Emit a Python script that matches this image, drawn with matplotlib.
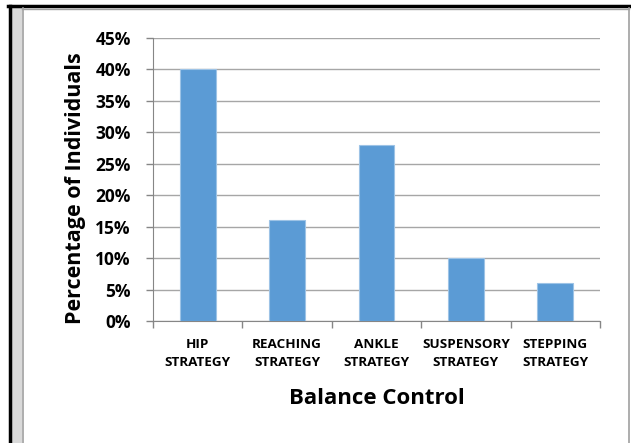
import matplotlib
matplotlib.use("Agg")
import matplotlib.pyplot as plt
from matplotlib.patches import Rectangle
from matplotlib.lines import Line2D
import numpy as np

categories = ["HIP\nSTRATEGY", "REACHING\nSTRATEGY", "ANKLE\nSTRATEGY",
              "SUSPENSORY\nSTRATEGY", "STEPPING\nSTRATEGY"]
values = [40, 16, 28, 10, 6]
yticks = [0, 5, 10, 15, 20, 25, 30, 35, 40, 45]
ytick_labels = ["0%", "5%", "10%", "15%", "20%", "25%", "30%", "35%", "40%", "45%"]

plt.rcParams['font.family'] = ['Open Sans', 'DejaVu Sans']

W, H = 631, 443
fig = plt.figure(figsize=(W / 100, H / 100), dpi=100)

def fx(px):
    return px / W

def fy(py):
    return 1 - py / H

# Frame decorations
fig.patches.append(Rectangle((fx(11), 0), fx(22) - fx(11), fy(8), transform=fig.transFigure,
                             facecolor="#d9d9d9", edgecolor="none", zorder=0))
fig.lines.append(Line2D([fx(9.5), fx(9.5)], [0, fy(6)], transform=fig.transFigure,
                        color="black", lw=2.5))
fig.lines.append(Line2D([fx(8), fx(631)], [fy(6), fy(6)], transform=fig.transFigure,
                        color="black", lw=2.5))
fig.lines.append(Line2D([fx(22.5), fx(22.5)], [0, fy(8)], transform=fig.transFigure,
                        color="#a0a0a0", lw=1.2))
fig.lines.append(Line2D([fx(22), fx(629)], [fy(8.5), fy(8.5)], transform=fig.transFigure,
                        color="#a0a0a0", lw=1.0))
fig.lines.append(Line2D([fx(628.5), fx(628.5)], [0, fy(8)], transform=fig.transFigure,
                        color="#a0a0a0", lw=1.2))

left, right, top, bottom = 153, 600, 38, 321
ax = fig.add_axes([fx(left), fy(bottom), fx(right) - fx(left), fy(top) - fy(bottom)])

x = np.arange(len(categories))
ax.bar(x, values, width=0.4, color="#5b9bd5", edgecolor="#9dc3e6", linewidth=0.8, zorder=3)

ax.set_xlim(-0.5, len(categories) - 0.5)
ax.set_ylim(0, 45)
ax.set_yticks(yticks)
ax.set_yticklabels(ytick_labels, fontsize=12.5, fontweight="bold")
ax.yaxis.grid(True, color="#a6a6a6", linewidth=1.0, zorder=0)
ax.set_axisbelow(True)

ax.set_xticks(x)
ax.set_xticklabels(categories, fontsize=9.7, fontweight="bold", linespacing=1.5)
ax.set_xticks(np.arange(-0.5, len(categories)), minor=True)
ax.tick_params(axis="x", which="major", length=0, pad=12)
ax.tick_params(axis="x", which="minor", length=5, color="#868686", width=1)
ax.tick_params(axis="y", length=5, color="#868686", width=1, pad=11)

for s in ["top", "right"]:
    ax.spines[s].set_visible(False)
ax.spines["left"].set_color("#868686")
ax.spines["bottom"].set_color("#868686")

ax.set_ylabel("Percentage of Individuals", fontsize=15.5, fontweight="bold", labelpad=7)
ax.yaxis.label.set_y(0.47)
ax.set_xlabel("Balance Control", fontsize=16, fontweight="bold", labelpad=14)

fig.savefig("out.png", dpi=100, facecolor="white")
